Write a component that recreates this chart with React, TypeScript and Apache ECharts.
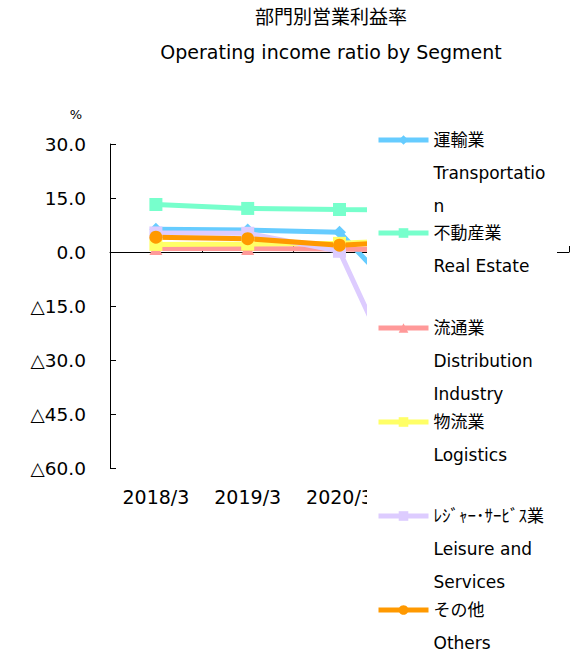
import React, { useEffect, useRef } from 'react';
import * as echarts from 'echarts';

const categories = ['2018/3', '2019/3', '2020/3', '2021/3', '2022/3'];
const seriesNames = ['運輸業', '不動産業', '流通業', '物流業', 'ﾚｼﾞｬｰ･ｻｰﾋﾞｽ業', 'その他'];
const legendSubLabels = [
  ['Transportatio', 'n'],
  ['Real Estate'],
  ['Distribution', 'Industry'],
  ['Logistics'],
  ['Leisure and', 'Services'],
  ['Others'],
];
const transportation = [6.3, 6.1, 5.5, -21.5, -8.0];
const realEstate = [13.2, 12.1, 11.8, 11.6, 12.9];
const distribution = [1.0, 1.0, 0.8, 0.5, 1.2];
const logistics = [2.1, 2.2, 2.4, 3.5, 4.5];
const leisure = [5.3, 5.2, 0.2, -55.0, -22.0];
const others = [4.1, 3.7, 1.9, 3.2, 3.5];
const seriesValues = [transportation, realEstate, distribution, logistics, leisure, others];
const seriesColors = ['#66CCFF', '#77FFCC', '#FF9999', '#FFFF66', '#DDCCFF', '#FF9900'];
const seriesSymbols = ['diamond', 'rect', 'triangle', 'rect', 'rect', 'circle'];
const yMin = -60;
const yMax = 30;
const yInterval = 15;

const FONT = "'DejaVu Sans', 'Noto Sans CJK JP', sans-serif";
const LEGEND_LH = 33;
const legendIconY = [140, 233, 328, 422, 516, 610];

export default function App() {
  const ref = useRef<HTMLDivElement>(null);
  useEffect(() => {
    if (!ref.current) return;
    const chart = echarts.init(ref.current, null, { renderer: 'svg' });
    const legends = seriesNames.map((name, i) => {
      const sub = legendSubLabels[i];
      const lines = ['', '', name, ...sub];
      while (lines.length < 5) lines.push('');
      const text = lines.join('\n');
      return {
        data: [name],
        left: 376,
        top: legendIconY[i] - (5 * LEGEND_LH) / 2,
        orient: 'vertical',
        padding: 0,
        itemWidth: 50,
        itemHeight: 12,
        selectedMode: false,
        lineStyle: { width: 5 },
        formatter: () => text,
        textStyle: { fontSize: 17, lineHeight: LEGEND_LH, color: '#000', fontFamily: FONT },
        z: 10,
      };
    });
    chart.setOption({
      animation: false,
      title: [
        {
          text: '部門別営業利益率',
          left: 331,
          top: 7,
          padding: 0,
          textAlign: 'center',
          textStyle: { fontSize: 19, fontWeight: 'normal', color: '#000', fontFamily: FONT },
        },
        {
          text: 'Operating income ratio by Segment',
          left: 331,
          top: 42,
          padding: 0,
          textAlign: 'center',
          textStyle: { fontSize: 19, fontWeight: 'normal', color: '#000', fontFamily: FONT },
        },
      ],
      legend: legends,
      grid: { left: 110, right: 6, top: 144, bottom: 185, containLabel: false },
      xAxis: [
        {
          type: 'category',
          data: categories,
          position: 'bottom',
          axisLine: { show: false, onZero: false },
          axisTick: { show: false },
          axisLabel: { fontSize: 19, color: '#000', fontFamily: FONT, margin: 19 },
          splitLine: { show: false },
        },
        {
          type: 'category',
          data: categories,
          position: 'top',
          axisLine: { show: true, onZero: true, lineStyle: { color: '#000', width: 1 } },
          axisTick: { show: true, inside: false, length: 6, lineStyle: { color: '#000' } },
          axisLabel: { show: false },
          splitLine: { show: false },
        },
      ],
      yAxis: {
        type: 'value',
        min: yMin,
        max: yMax,
        interval: yInterval,
        axisLine: { show: true, lineStyle: { color: '#000', width: 1 } },
        axisTick: { show: true, inside: true, length: 6, lineStyle: { color: '#000' } },
        axisLabel: {
          fontSize: 18.5,
          color: '#000',
          fontFamily: FONT,
          margin: 24,
          formatter: (v: number) => (v < 0 ? '△' + Math.abs(v).toFixed(1) : v.toFixed(1)),
        },
        splitLine: { show: false },
      },
      graphic: [
        {
          type: 'rect',
          z: 3,
          shape: { x: 367, y: 122, width: 190, height: 540 },
          style: { fill: '#fff' },
        },
        {
          type: 'text',
          x: 76,
          y: 114,
          style: {
            text: '%',
            fontSize: 13,
            fill: '#000',
            fontFamily: FONT,
            align: 'center',
            verticalAlign: 'middle',
          },
        },
      ],
      series: seriesNames.map((name, i) => ({
        name,
        type: 'line',
        xAxisIndex: 0,
        data: seriesValues[i],
        symbol: seriesSymbols[i],
        symbolSize: 13,
        showSymbol: true,
        lineStyle: { width: 5, color: seriesColors[i] },
        itemStyle: { color: seriesColors[i], borderWidth: 0 },
        emphasis: { disabled: true },
        z: 2,
      })),
    });
    return () => chart.dispose();
  }, []);
  return (
    <div
      ref={ref}
      style={{ position: 'fixed', left: 0, top: 0, width: 575, height: 653, background: '#fff' }}
    />
  );
}
